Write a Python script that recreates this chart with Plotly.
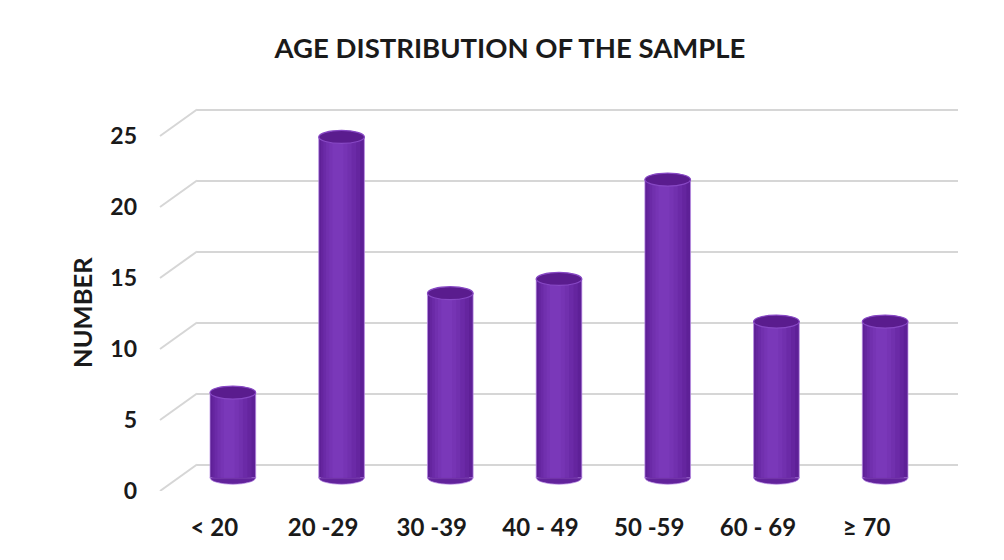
import plotly.graph_objects as go

# ---------------- data ----------------
categories = ["< 20", "20 -29", "30 -39", "40 - 49", "50 -59", "60 - 69", "≥ 70"]
counts = [6, 24, 13, 14, 21, 11, 11]
y_ticks = [0, 5, 10, 15, 20, 25]

# ---------------- layout constants (pixels) ----------------
W, H = 1004, 560
OFF = 8                       # page body margin offset
S = 14.2                      # px per unit
BACK_X = (197 - OFF, 958 - OFF)
BACK_Z = 464.5 - OFF
MID_X = (178.5 - OFF, 939.5 - OFF)
MID_Z = 477.75 - OFF
FRONT_X = (160 - OFF, 921 - OFF)
FRONT_Z = 491 - OFF
YMAX = 25
BAR_W = 0.42

FONT = "Lato"
TXT = "#1a1a1a"
GRID = "#d6d6d6"


def xdom(px):
    return [px[0] / W, px[1] / W]


def ydom(zero_py, vmin, vmax):
    return [1 - (zero_py - vmin * S) / H, 1 - (zero_py - vmax * S) / H]


xs = list(range(len(categories)))

fig = go.Figure()

# cylinder body: overlaid bars with shading from edge to highlight
shades = [
    (1.00, 0.00, "#5e2097"),
    (0.86, -0.02, "#65259f"),
    (0.72, -0.04, "#6b2aa7"),
    (0.56, -0.06, "#7130ae"),
    (0.40, -0.07, "#7634b4"),
    (0.24, -0.08, "#7a38b9"),
]
for frac, shift, col in shades:
    w = BAR_W * frac
    fig.add_trace(go.Bar(
        x=xs, y=counts, width=w, offset=-w / 2 + shift * BAR_W,
        marker=dict(color=col,
                    line=dict(color="rgba(185,140,230,0.7)" if frac == 1.0 else col,
                              width=1 if frac == 1.0 else 0)),
        xaxis="x2", yaxis="y2", hoverinfo="skip", showlegend=False,
    ))

# invisible traces to carry the front axes and back wall
fig.add_trace(go.Scatter(x=xs, y=counts, mode="markers", marker=dict(opacity=0),
                         xaxis="x3", yaxis="y3", hoverinfo="skip", showlegend=False))
fig.add_trace(go.Scatter(x=xs, y=counts, mode="markers", marker=dict(opacity=0),
                         xaxis="x", yaxis="y", hoverinfo="skip", showlegend=False))

shapes = []
ell_h = 6.5
for i, v in zip(xs, counts):
    shapes.append(dict(type="circle", xref="x2", yref="y2", layer="between",
                       x0=i - BAR_W / 2, x1=i + BAR_W / 2,
                       ysizemode="pixel", yanchor=0, y0=-ell_h, y1=ell_h,
                       fillcolor="#62239b", line=dict(color="rgba(185,140,230,0.7)", width=1)))
    shapes.append(dict(type="circle", xref="x2", yref="y2", layer="above",
                       x0=i - BAR_W / 2, x1=i + BAR_W / 2,
                       ysizemode="pixel", yanchor=v, y0=-ell_h, y1=ell_h,
                       fillcolor="#5a1c8e", line=dict(color="#8748c4", width=1.2)))

# perspective side lines from front ticks (front axis) up to back wall gridlines
for v in y_ticks:
    shapes.append(dict(type="line", xref="paper", yref="y3", layer="below",
                       x0=FRONT_X[0] / W, x1=BACK_X[0] / W,
                       ysizemode="pixel", yanchor=v, y0=0, y1=(FRONT_Z - BACK_Z),
                       line=dict(color=GRID, width=2)))

fig.update_layout(
    width=W, height=H,
    margin=dict(l=0, r=0, t=0, b=0, pad=0, autoexpand=False),
    paper_bgcolor="white",
    plot_bgcolor="rgba(0,0,0,0)",
    barmode="overlay",
    showlegend=False,
    font=dict(family=FONT, color=TXT),
    title=dict(text="AGE DISTRIBUTION OF THE SAMPLE", x=(510 - OFF) / W, xanchor="center",
               y=1 - (48 - OFF) / H, yanchor="middle", yref="container",
               font=dict(family=FONT, size=27.5, weight="bold", color=TXT)),
    # back wall
    xaxis=dict(domain=xdom(BACK_X), range=[-0.5, 6.5], visible=False, anchor="y",
               automargin=False),
    yaxis=dict(domain=ydom(BACK_Z, -0.5, YMAX + 0.5), range=[-0.5, YMAX + 0.5], anchor="x",
               tickvals=y_ticks, showticklabels=False, ticks="",
               showgrid=True, gridcolor=GRID, gridwidth=2,
               zeroline=False, showline=False, automargin=False),
    # bars
    xaxis2=dict(domain=xdom(MID_X), range=[-0.5, 6.5], visible=False, anchor="y2",
                automargin=False),
    yaxis2=dict(domain=ydom(MID_Z, -1, YMAX + 1), range=[-1, YMAX + 1],
                visible=False, anchor="x2", automargin=False),
    # front (labels)
    xaxis3=dict(domain=xdom(FRONT_X), range=[-0.5, 6.5], anchor="y3",
                tickmode="array", tickvals=xs, ticktext=categories,
                showgrid=False, zeroline=False, showline=False, ticks="",
                ticklabelstandoff=20, automargin=False,
                tickfont=dict(family=FONT, size=24, weight="bold", color=TXT)),
    yaxis3=dict(domain=ydom(FRONT_Z, 0, YMAX + 3), range=[0, YMAX + 3], anchor="x3",
                tickmode="array", tickvals=y_ticks,
                showgrid=False, zeroline=False, showline=False, ticks="",
                ticklabelstandoff=22, automargin=False,
                tickfont=dict(family=FONT, size=23, weight="bold", color=TXT)),
    shapes=shapes,
    annotations=[dict(text="NUMBER", xref="paper", yref="paper",
                      x=(82 - OFF) / W, y=1 - (313 - OFF) / H,
                      xanchor="center", yanchor="middle",
                      textangle=-90, showarrow=False,
                      font=dict(family=FONT, size=25.5, weight="bold", color=TXT))],
)

fig.write_html("out.html")
